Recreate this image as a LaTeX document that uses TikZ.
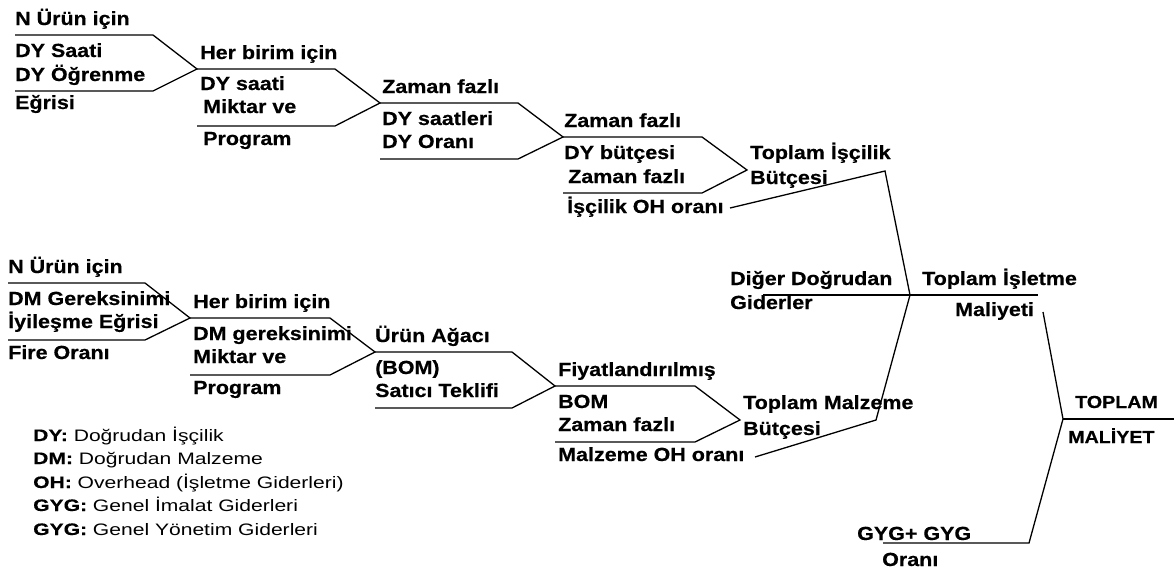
\documentclass[tikz,border=0pt]{standalone}
\usepackage{fontspec}
\setmainfont{Liberation Sans}[FakeStretch=1.13, BoldFeatures={FakeBold=0.5}]
\newfontfamily\keyfont{Liberation Sans}[FakeStretch=1.27, BoldFeatures={FakeBold=0.3}]

% one merge bracket: two rails that meet in a point
% #1 name, #2 left x, #3 top y, #4 corner x, #5 apex x, #6 apex y, #7 bottom y
\newcommand\mergebox[7]{%
  \coordinate (#1-tl) at (#2,#3);
  \coordinate (#1-tr) at (#4,#3);
  \coordinate (#1-bl) at (#2,#7);
  \coordinate (#1-br) at (#4,#7);
  \coordinate (#1-ap) at (#5,#6);
  \draw[wire] (#1-tl) -- (#1-tr) -- (#1-ap) -- (#1-br) -- (#1-bl);}

\tikzset{
  lbl/.style={anchor=base west, inner sep=0pt,
    font=\fontsize{19}{22}\selectfont\bfseries},
  lblsm/.style={anchor=base west, inner sep=0pt,
    font=\fontsize{17.4}{20}\selectfont\bfseries},
  key/.style={anchor=base west, inner sep=0pt,
    font=\keyfont\fontsize{16.6}{20}\selectfont},
  wire/.style={line width=1.3pt, line join=miter},
}

\begin{document}
\begin{tikzpicture}[x=1pt,y=-1pt]
\useasboundingbox (0,0) rectangle (1174,568);

% ---------- labour chain ----------
\mergebox{L1}{15}{35}{153}{197}{69}{91}
\mergebox{L2}{197}{69}{335}{380}{103}{126}
\mergebox{L3}{380}{103}{518}{563}{137}{159}
\mergebox{L4}{563}{137}{702}{747}{170}{193}

\node[lbl] (t1a) at (15,25)  {N Ürün için};
\node[lbl] (t1b) at (15,57)  {DY Saati};
\node[lbl] (t1c) at (15,81)  {DY Öğrenme};
\node[lbl] (t1d) at (15,109) {Eğrisi};

\node[lbl] (t2a) at (200,59)  {Her birim için};
\node[lbl] (t2b) at (200,90)  {DY saati};
\node[lbl] (t2c) at (203,113) {Miktar ve};
\node[lbl] (t2d) at (203,145) {Program};

\node[lbl] (t3a) at (382,93)  {Zaman fazlı};
\node[lbl] (t3b) at (382,125) {DY saatleri};
\node[lbl] (t3c) at (382,148) {DY Oranı};

\node[lbl] (t4a) at (564,127) {Zaman fazlı};
\node[lbl] (t4b) at (564,159) {DY bütçesi};
\node[lbl] (t4c) at (568,183) {Zaman fazlı};
\node[lbl] (t4d) at (567,213) {İşçilik OH oranı};

\node[lbl] (tl1) at (750,159) {Toplam İşçilik};
\node[lbl] (tl2) at (750,184) {Bütçesi};

% ---------- material chain ----------
\mergebox{M1}{8}{283}{145}{190}{318}{340}
\mergebox{M2}{190}{318}{330}{375}{352}{375}
\mergebox{M3}{375}{352}{512}{555}{386}{408}
\mergebox{M4}{555}{386}{695}{740}{420}{442}

\node[lbl] (b1a) at (8,273) {N Ürün için};
\node[lbl] (b1b) at (8,305) {DM Gereksinimi};
\node[lbl] (b1c) at (8,328) {İyileşme Eğrisi};
\node[lbl] (b1d) at (8,359) {Fire Oranı};

\node[lbl] (b2a) at (193,308) {Her birim için};
\node[lbl] (b2b) at (193,340) {DM gereksinimi};
\node[lbl] (b2c) at (193,363) {Miktar ve};
\node[lbl] (b2d) at (193,394) {Program};

\node[lbl] (b3a) at (375,342) {Ürün Ağacı};
\node[lbl] (b3b) at (375,374) {(BOM)};
\node[lbl] (b3c) at (375,397) {Satıcı Teklifi};

\node[lbl] (b4a) at (558,376) {Fiyatlandırılmış};
\node[lbl] (b4b) at (558,408) {BOM};
\node[lbl] (b4c) at (558,431) {Zaman fazlı};
\node[lbl] (b4d) at (558,461) {Malzeme OH oranı};

\node[lbl] (bm1) at (743,409) {Toplam Malzeme};
\node[lbl] (bm2) at (743,435) {Bütçesi};

% ---------- totals ----------
\node[lbl] (od1) at (730,285) {Diğer Doğrudan};
\node[lbl] (od2) at (730,309) {Giderler};
\node[lbl] (ti1) at (922,285) {Toplam İşletme};
\node[lbl] (ti2) at (955,316) {Maliyeti};
\node[lblsm] (tm1) at (1075,408) {TOPLAM};
\node[lblsm] (tm2) at (1068,443) {MALİYET};
\node[lbl] (gy1) at (857,540) {GYG+ GYG};
\node[lbl] (gy2) at (882,566) {Oranı};

\coordinate (labEnd)  at (730,208);
\coordinate (labTop)  at (885,171);
\coordinate (opJoin)  at (910,295);
\coordinate (odLeft)  at (763,295);
\coordinate (opRight) at (1038,295);
\coordinate (matBot)  at (876,420);
\coordinate (matEnd)  at (755,457);
\coordinate (opEnd)   at (1043,312);
\coordinate (totJoin) at (1063,419);
\coordinate (totEnd)  at (1174,419);
\coordinate (gyRight) at (1029,543);
\coordinate (gyLeft)  at (883,543);

\draw[wire] (labEnd) -- (labTop) -- (opJoin) -- (matBot) -- (matEnd);
\draw[wire] (odLeft) -- (opJoin) -- (opRight);
\draw[wire] (opEnd) -- (totJoin) -- (gyRight) -- (gyLeft);
\draw[wire] (totJoin) -- (totEnd);

% ---------- abbreviations ----------
\node[key] (k1) at (33,441) {\textbf{DY:} Doğrudan İşçilik};
\node[key] (k2) at (33,464) {\textbf{DM:} Doğrudan Malzeme};
\node[key] (k3) at (33,488) {\textbf{OH:} Overhead (İşletme Giderleri)};
\node[key] (k4) at (33,511) {\textbf{GYG:} Genel İmalat Giderleri};
\node[key] (k5) at (33,535) {\textbf{GYG:} Genel Yönetim Giderleri};
\end{tikzpicture}
\end{document}
